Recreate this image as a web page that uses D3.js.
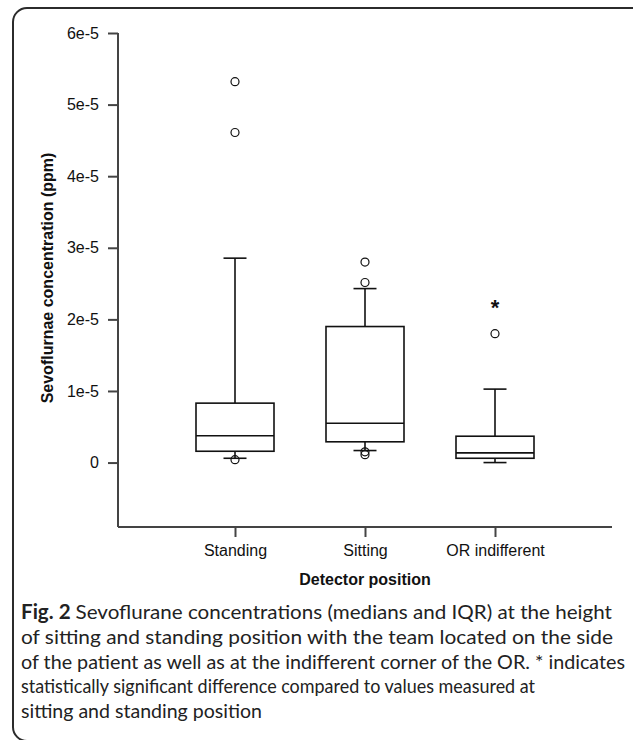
<!DOCTYPE html>
<html>
<head>
<meta charset="utf-8">
<title>Sevoflurane concentrations</title>
<style>
  body { margin: 0; background: #fff; }
  svg { display: block; }
</style>
</head>
<body>
<svg width="633" height="740"></svg>
<script src="https://d3js.org/d3.v7.min.js"></script>
<script>
// values (ppm)
var categories = ["Standing", "Sitting", "OR indifferent"];
var whiskerLow  = [0.06e-5, 0.168e-5, 0.0];
var q1          = [0.158e-5, 0.29e-5, 0.06e-5];
var medians     = [0.374e-5, 0.55e-5, 0.136e-5];
var q3          = [0.83e-5, 1.90e-5, 0.368e-5];
var whiskerHigh = [2.855e-5, 2.43e-5, 1.026e-5];
var outliers    = [[5.32e-5, 4.61e-5, 0.04e-5], [2.80e-5, 2.515e-5, 0.15e-5, 0.11e-5], [1.80e-5]];
var significant = [null, null, 2.225e-5];   // where the * sits
var yTicks = [0, 1e-5, 2e-5, 3e-5, 4e-5, 5e-5, 6e-5];
var yTickLabels = ["0", "1e-5", "2e-5", "3e-5", "4e-5", "5e-5", "6e-5"];
var captionLines = [
  "Sevoflurane concentrations (medians and IQR) at the height",
  "of sitting and standing position with the team located on the side",
  "of the patient as well as at the indifferent corner of the OR. * indicates",
  "statistically significant difference compared to values measured at",
  "sitting and standing position"
];
var captionWidths = [591, 592, 604, 514, 241];   // line widths as set in the figure

var svg = d3.select("svg");

var boxes = categories.map(function(c, i) {
  return {cat: c, lo: whiskerLow[i], q1: q1[i], med: medians[i], q3: q3[i], hi: whiskerHigh[i], out: outliers[i], star: significant[i]};
});

// frame around figure + caption
svg.append("rect")
    .attr("x", 13).attr("y", 8)
    .attr("width", 650).attr("height", 733)
    .attr("rx", 14)
    .attr("fill", "none")
    .attr("stroke", "#2b2b2b")
    .attr("stroke-width", 2);

var x = d3.scalePoint()
    .domain(categories)
    .range([118, 612])
    .padding(0.9);

var y = d3.scaleLinear()
    .domain([-0.9e-5, 6e-5])
    .range([527, 33]);

var boxW = 78, capW = 23;
var axisColor = "#444";

// y axis
var gy = svg.append("g")
    .attr("transform", "translate(118,0)")
    .call(d3.axisLeft(y).tickValues(yTicks).tickSize(10).tickPadding(9)
      .tickFormat(function(d, i) { return yTickLabels[i]; }));
gy.select(".domain").attr("d", "M0," + y(6e-5) + "V" + y.range()[0]);
gy.selectAll("line, path").attr("stroke", axisColor).attr("stroke-width", 2);
gy.selectAll("text").attr("font-family", "Liberation Sans, Arial, sans-serif").attr("font-size", 16).attr("fill", "#111");

// x axis
var gx = svg.append("g")
    .attr("transform", "translate(0," + y.range()[0] + ")")
    .call(d3.axisBottom(x).tickSize(10).tickPadding(8));
gx.select(".domain").attr("d", "M118,0H612");
gx.selectAll("line, path").attr("stroke", axisColor).attr("stroke-width", 2);
gx.selectAll("text").attr("font-family", "Liberation Sans, Arial, sans-serif").attr("font-size", 16).attr("fill", "#111");

// axis titles
svg.append("text")
    .attr("x", 365).attr("y", 585)
    .attr("text-anchor", "middle")
    .attr("font-family", "Liberation Sans, Arial, sans-serif")
    .attr("font-weight", "bold").attr("font-size", 16)
    .attr("fill", "#111")
    .text("Detector position");

svg.append("text")
    .attr("transform", "translate(53,278) rotate(-90)")
    .attr("text-anchor", "middle")
    .attr("font-family", "Liberation Sans, Arial, sans-serif")
    .attr("font-weight", "bold").attr("font-size", 16)
    .attr("fill", "#111")
    .text("Sevoflurnae concentration (ppm)");

// boxplots
var g = svg.append("g")
    .attr("fill", "none")
    .attr("stroke", "#111")
    .attr("stroke-width", 1.6);

var bx = g.selectAll("g.box").data(boxes).enter().append("g").attr("class", "box");

bx.append("line")   // upper whisker
    .attr("x1", function(d) { return x(d.cat); }).attr("x2", function(d) { return x(d.cat); })
    .attr("y1", function(d) { return y(d.q3); }).attr("y2", function(d) { return y(d.hi); });
bx.append("line")   // lower whisker
    .attr("x1", function(d) { return x(d.cat); }).attr("x2", function(d) { return x(d.cat); })
    .attr("y1", function(d) { return y(d.q1); }).attr("y2", function(d) { return y(d.lo); });
bx.append("line")   // caps
    .attr("x1", function(d) { return x(d.cat) - capW / 2; }).attr("x2", function(d) { return x(d.cat) + capW / 2; })
    .attr("y1", function(d) { return y(d.hi); }).attr("y2", function(d) { return y(d.hi); });
bx.append("line")
    .attr("x1", function(d) { return x(d.cat) - capW / 2; }).attr("x2", function(d) { return x(d.cat) + capW / 2; })
    .attr("y1", function(d) { return y(d.lo); }).attr("y2", function(d) { return y(d.lo); });
bx.append("rect")
    .attr("x", function(d) { return x(d.cat) - boxW / 2; })
    .attr("width", boxW)
    .attr("y", function(d) { return y(d.q3); })
    .attr("height", function(d) { return y(d.q1) - y(d.q3); })
    .attr("fill", "#fff");
bx.append("line")   // median
    .attr("x1", function(d) { return x(d.cat) - boxW / 2; }).attr("x2", function(d) { return x(d.cat) + boxW / 2; })
    .attr("y1", function(d) { return y(d.med); }).attr("y2", function(d) { return y(d.med); });

bx.selectAll("circle")
  .data(function(d) { return d.out.map(function(v) { return {cat: d.cat, v: v}; }); })
  .enter().append("circle")
    .attr("cx", function(d) { return x(d.cat); })
    .attr("cy", function(d) { return y(d.v); })
    .attr("r", 4)
    .attr("stroke-width", 1.2);

svg.selectAll("text.star")
  .data(boxes.filter(function(d) { return d.star != null; }))
  .enter().append("text")
    .attr("class", "star")
    .attr("x", function(d) { return x(d.cat); })
    .attr("y", function(d) { return y(d.star) + 12; })
    .attr("text-anchor", "middle")
    .attr("font-family", "Liberation Sans, Arial, sans-serif")
    .attr("font-weight", "bold").attr("font-size", 22)
    .attr("fill", "#111")
    .text("*");

// caption
var cap = svg.append("g")
    .attr("font-family", "Lato, Open Sans, sans-serif")
    .attr("font-size", 20)
    .attr("fill", "#222");

cap.selectAll("text")
  .data(captionLines)
  .enter().append("text")
    .attr("x", 21)
    .attr("y", function(d, i) { return 619 + i * 24.8; })
    .attr("textLength", function(d, i) { return captionWidths[i]; })
    .attr("lengthAdjust", "spacingAndGlyphs")
    .each(function(d, i) {
      var t = d3.select(this);
      if (i == 0) t.append("tspan").attr("font-weight", "bold").text("Fig. 2 ");
      t.append("tspan").text(d);
    });
</script>
</body>
</html>
